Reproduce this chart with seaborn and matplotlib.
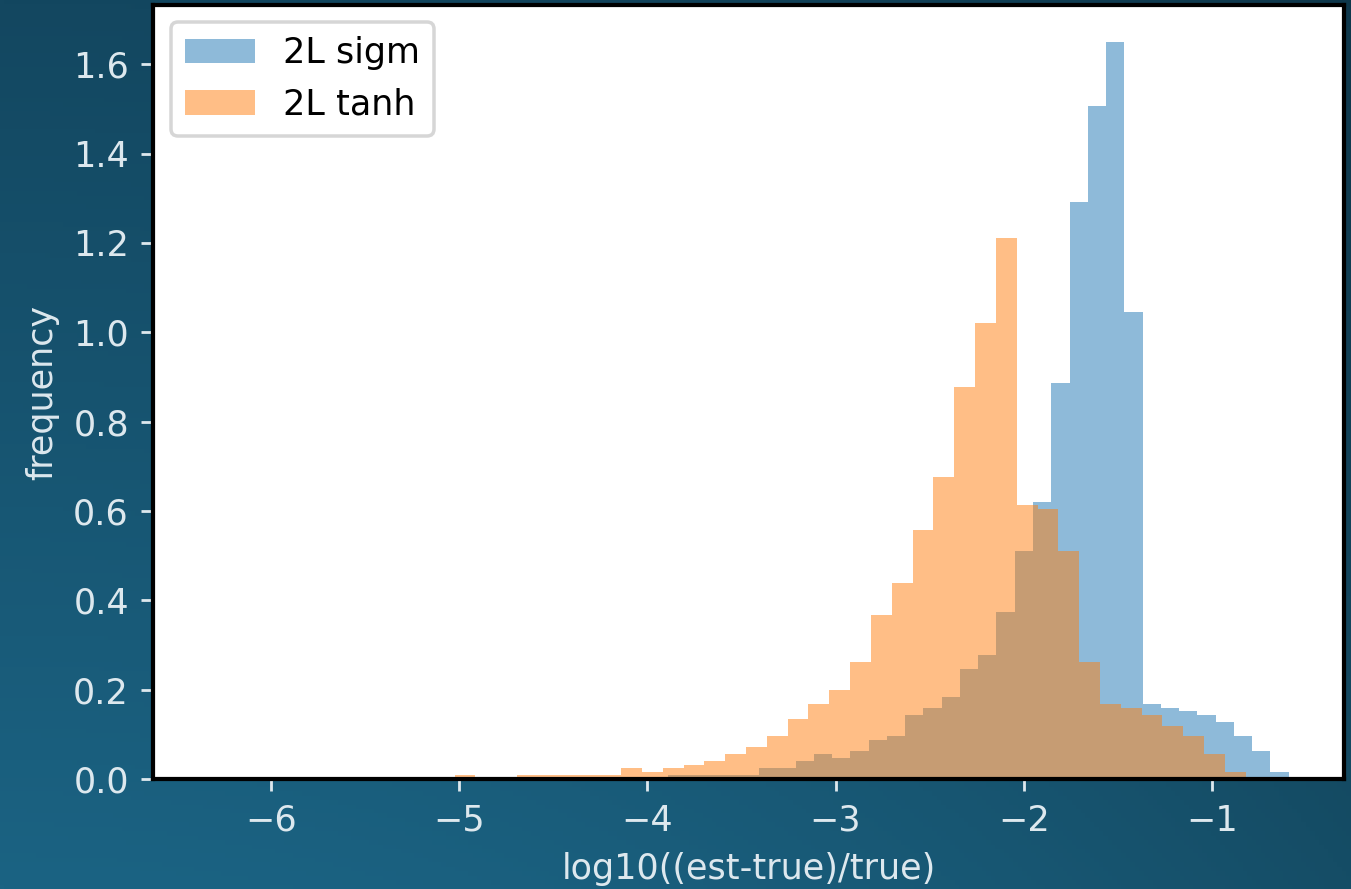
import matplotlib
matplotlib.use("Agg")
import matplotlib.pyplot as plt
import seaborn as sns
import pandas as pd
import numpy as np

# bin ranges of the two histograms (50 bins each, density)
sigm_range = (-5.443, -0.593)
tanh_range = (-6.351, -0.821)

# bar heights, left to right
sigm_heights = [0] * 16 + [0.009] * 5 + [
    0.025, 0.025, 0.040, 0.056, 0.047, 0.063, 0.087, 0.096, 0.143, 0.159,
    0.184, 0.247, 0.278, 0.374, 0.511, 0.621, 0.886, 1.291, 1.507, 1.650,
    1.045, 0.168, 0.159, 0.152, 0.143, 0.128, 0.096, 0.063, 0.016]
tanh_heights = [0] * 12 + [0.009, 0, 0] + [0.009] * 5 + [
    0.025, 0.016, 0.025, 0.031, 0.040, 0.056, 0.072, 0.096, 0.134, 0.168,
    0.199, 0.262, 0.368, 0.439, 0.558, 0.677, 0.877, 1.020, 1.211, 0.614,
    0.605, 0.511, 0.262, 0.168, 0.159, 0.143, 0.119, 0.096, 0.056, 0.015]

labels = ['2L sigm', '2L tanh']
txt_col = '#dde8ee'

fig = plt.figure(figsize=(1351 / 252, 889 / 252), dpi=252)

# teal gradient background
bg = fig.add_axes([0, 0, 1, 1], zorder=-1)
yy, xx = np.mgrid[0:1:200j, 0:1:300j]
top = np.array([0x13, 0x47, 0x60]) / 255
bot = np.array([0x1b, 0x63, 0x83]) / 255
img = top[None, None, :] * (1 - yy[..., None]) + bot[None, None, :] * yy[..., None]
img = img * (1 - 0.22 * xx[..., None] ** 2)
bg.imshow(img, aspect='auto', extent=[0, 1, 0, 1])
bg.axis('off')

ax = fig.add_axes([0.1136, 0.1237, 0.9948 - 0.1136, 0.9944 - 0.1237])
ax.set_facecolor('white')

for rng, h, lab, col in [(sigm_range, sigm_heights, labels[0], '#1f77b4'),
                          (tanh_range, tanh_heights, labels[1], '#ff7f0e')]:
    edges = np.linspace(rng[0], rng[1], len(h) + 1)
    df = pd.DataFrame({'x': (edges[:-1] + edges[1:]) / 2, 'w': h})
    sns.histplot(data=df, x='x', weights='w', bins=edges.tolist(), color=col,
                 alpha=0.5, linewidth=0, label=lab, ax=ax)

ax.set_xlim(-6.623, -0.299)
ax.set_xlabel('log10((est-true)/true)', color=txt_col)
ax.set_ylabel('frequency', color=txt_col)
ax.tick_params(colors=txt_col, labelcolor=txt_col)
for s in ax.spines.values():
    s.set_color('black')
    s.set_linewidth(1.2)
ax.legend(loc='upper left')

fig.savefig('out.png', dpi=252)
